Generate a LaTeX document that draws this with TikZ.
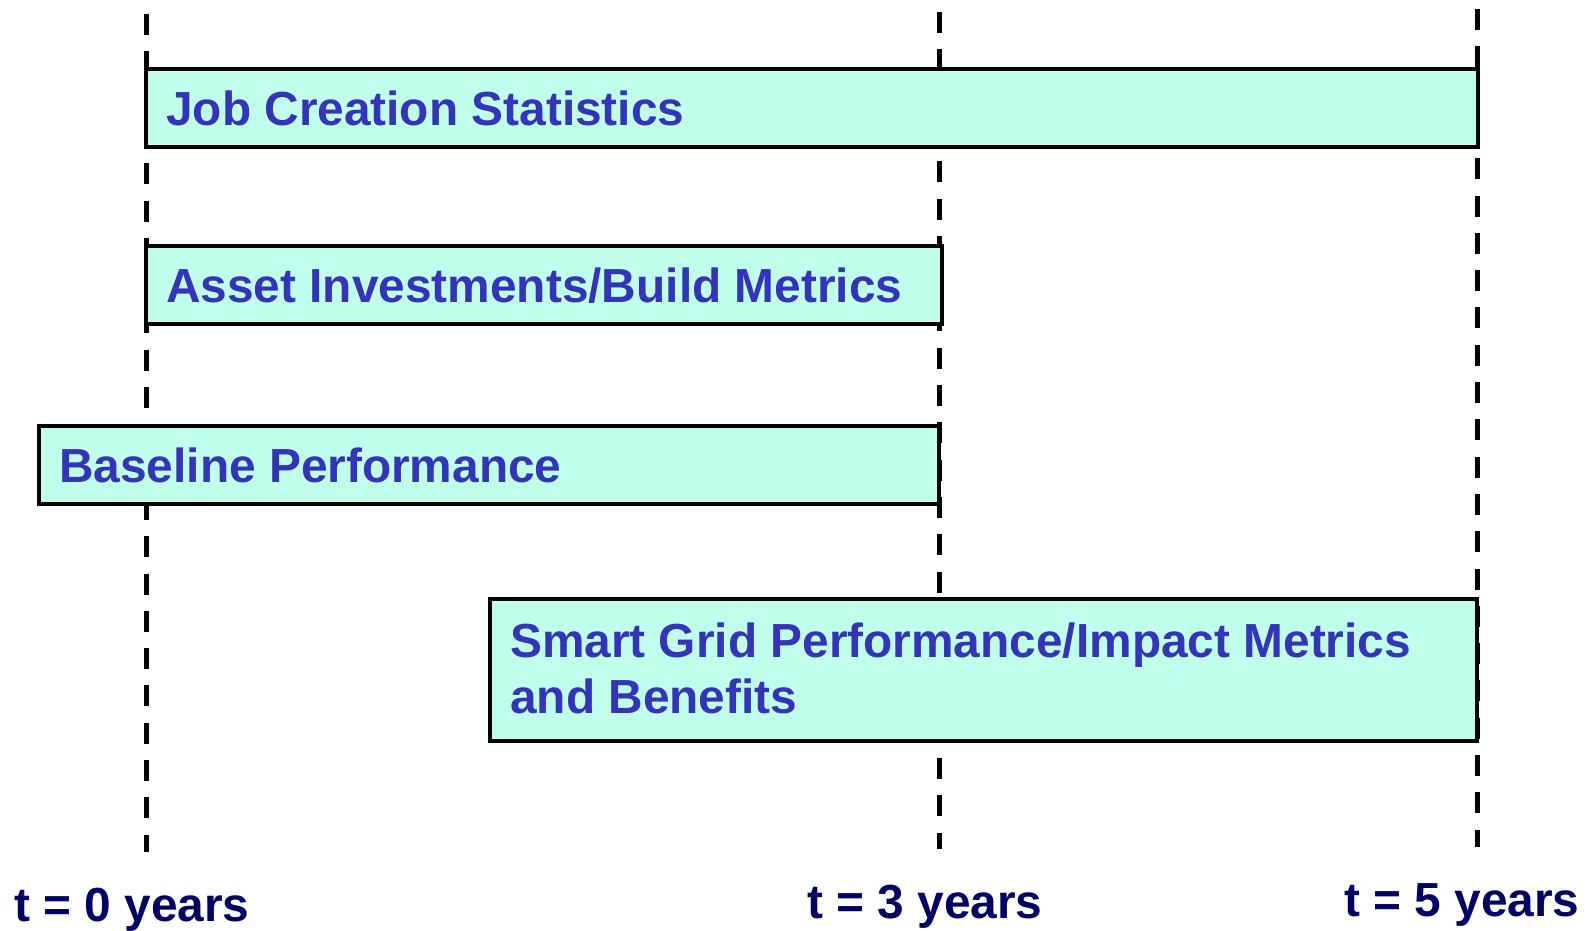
\documentclass[tikz,border=0pt]{standalone}
\usepackage{fontspec}
\setmainfont{Liberation Sans}
\usepackage{tikz}

\definecolor{barfill}{RGB}{193,255,237}
\definecolor{barblue}{RGB}{51,51,187}
\definecolor{yearnavy}{RGB}{0,0,102}

\tikzset{
    bar/.style = {draw = black, line width = 4bp, fill = barfill},
    tick/.style = {line width = 5bp, dash pattern = on 21bp off 16.3bp},
    barlabel/.style = {anchor = base west, inner sep = 0pt, text = barblue, align = left,
        font = \bfseries\fontsize{48}{56}\selectfont},
    yearlabel/.style = {anchor = base west, inner sep = 0pt, text = yearnavy,
        font = \bfseries\fontsize{48}{56}\selectfont}
}

\begin{document}
\begin{tikzpicture}[x = 1bp, y = -1bp]
        \useasboundingbox (0, 0) rectangle (1593, 930);

        \begin{scope}
            \foreach \x/\top/\bot in {146/14/852, 939/12/849, 1477/9/847}
                \draw[tick] (\x, \top) -- (\x, \bot);
        \end{scope}

        \begin{scope}
            \draw[bar] (146, 69) rectangle (1478, 147);
            \node[barlabel] (jobs) at (166, 125) {Job Creation Statistics};

            \draw[bar] (146, 246) rectangle (942, 324);
            \node[barlabel] (assets) at (166, 302) {Asset Investments/Build Metrics};

            \draw[bar] (39, 426) rectangle (939, 504);
            \node[barlabel] (baseline) at (59, 482) {Baseline Performance};

            % base of a two-line node sits on its last line
            \draw[bar] (490, 599) rectangle (1477, 741);
            \node[barlabel] (impact) at (510, 713) {Smart Grid Performance/Impact Metrics\\and Benefits};
        \end{scope}

        \node[yearlabel] (t0) at (14, 921) {t = 0 years};
        \node[yearlabel] (t3) at (807, 918) {t = 3 years};
        \node[yearlabel] (t5) at (1344, 916) {t = 5 years};
    \end{tikzpicture}
\end{document}
